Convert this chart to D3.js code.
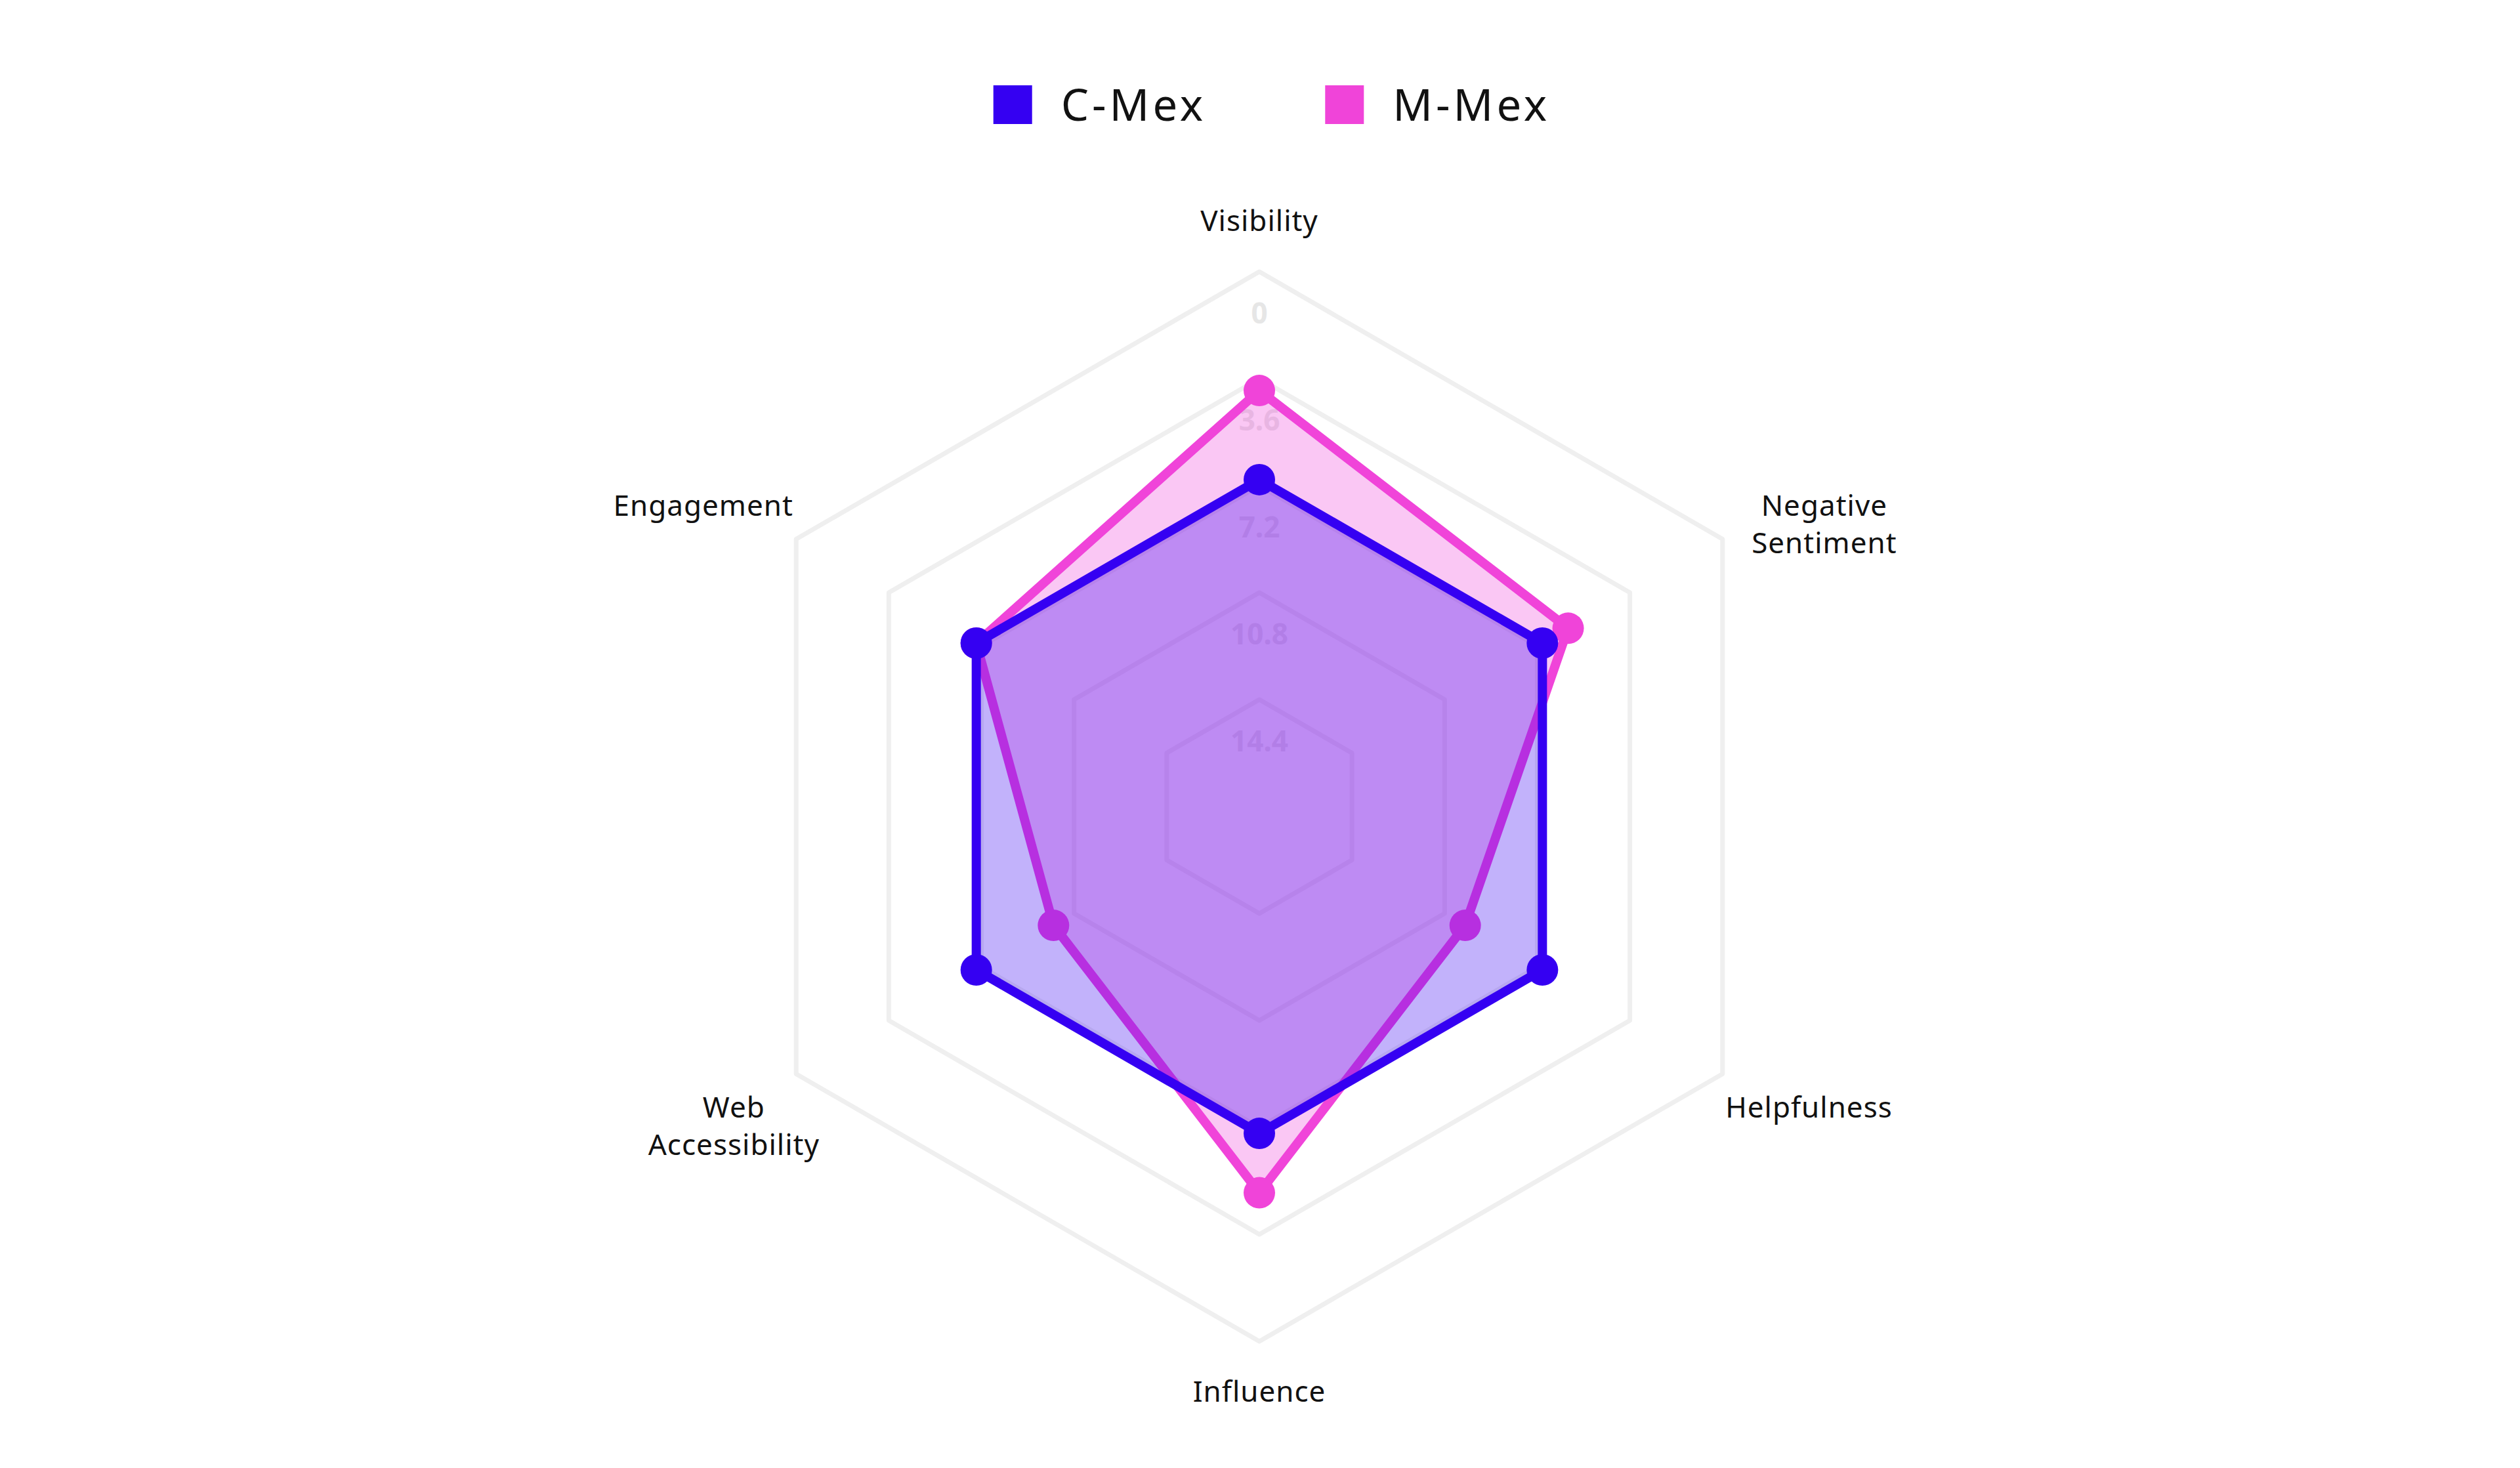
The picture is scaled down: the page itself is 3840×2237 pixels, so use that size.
<!DOCTYPE html>
<html>
<head>
<meta charset="utf-8">
<script src="https://cdn.jsdelivr.net/npm/d3@7"></script>
<style>
    body { margin: 0; background: #fff; }
    text { font-family: "Noto Sans", sans-serif; }
</style>
</head>
<body>
<script>
// chart data
var axisLabels = [["Visibility"], ["Negative", "Sentiment"], ["Helpfulness"], ["Influence"], ["Web", "Accessibility"], ["Engagement"]];
var seriesNames = ["C-Mex", "M-Mex"];
var cMexValues = [7, 7, 7, 7, 7, 7];
var mMexValues = [4, 6, 10, 5, 10, 7];
var tickValues = [0, 3.6, 7.2, 10.8, 14.4];
var scaleMax = 18;

var seriesColors = ["#3500f2", "#f044d9"];

var width = 3840,
    height = 2237,
    cx = 1919,
    cy = 1229,
    outerR = 815,
    svg,
    g,
    r,
    angle;

function init() {
    svg = d3.select("body").append("svg")
        .attr("width", width)
        .attr("height", height);

    // reversed radial scale: 0 on the outer ring, centre is the max
    r = d3.scaleLinear().domain([0, scaleMax]).range([outerR, 0]);
    angle = function (i) { return i * 2 * Math.PI / axisLabels.length; };

    g = svg.append("g").attr("transform", "translate(" + cx + "," + cy + ")");

    drawGrid();
    // M-Mex goes underneath, C-Mex fill tints it
    drawSeries(mMexValues, seriesColors[1]);
    drawSeries(cMexValues, seriesColors[0]);
    drawLabels();
    drawLegend();
}

function drawGrid() {
    var ring = d3.lineRadial()
        .angle(function (d, i) { return angle(i); })
        .radius(function (d) { return r(d); })
        .curve(d3.curveLinearClosed);

    g.selectAll(".ring")
        .data(tickValues)
        .enter().append("path")
        .attr("class", "ring")
        .attr("d", function (t) { return ring(axisLabels.map(function () { return t; })); })
        .attr("fill", "none")
        .attr("stroke", "#efefef")
        .attr("stroke-width", 7)
        .attr("stroke-linejoin", "round");

    g.selectAll(".tick-label")
        .data(tickValues)
        .enter().append("text")
        .attr("class", "tick-label")
        .attr("x", 0)
        .attr("y", function (t) { return -r(t) + 64; })
        .attr("dy", "0.35em")
        .attr("text-anchor", "middle")
        .attr("font-size", 44)
        .attr("font-weight", "bold")
        .attr("fill", "#e6e6e6")
        .text(function (t) { return t; });
}

function drawSeries(values, color) {
    var line = d3.lineRadial()
        .angle(function (d, i) { return angle(i); })
        .radius(function (d) { return r(d); })
        .curve(d3.curveLinearClosed);

    var s = g.append("g");

    s.append("path")
        .attr("d", line(values))
        .attr("fill", color)
        .attr("fill-opacity", 0.3)
        .attr("stroke", color)
        .attr("stroke-width", 14)
        .attr("stroke-linejoin", "round");

    s.selectAll("circle")
        .data(values)
        .enter().append("circle")
        .attr("cx", function (d, i) { return d3.pointRadial(angle(i), r(d))[0]; })
        .attr("cy", function (d, i) { return d3.pointRadial(angle(i), r(d))[1]; })
        .attr("r", 24)
        .attr("fill", color);
}

function drawLabels() {
    var lineH = 57;

    axisLabels.forEach(function (lines, i) {
        var a = angle(i),
            sinA = Math.abs(Math.sin(a)),
            // side labels sit a little further out vertically than top/bottom
            py = d3.pointRadial(a, 892 + 28 * sinA)[1],
            px = d3.pointRadial(a, 820)[0],
            side = sinA < 1e-6 ? 0 : (Math.sin(a) > 0 ? 1 : -1);

        var t = g.append("text")
            .attr("font-size", 44)
            .attr("letter-spacing", 1)
            .attr("fill", "#111")
            .attr("text-anchor", "middle");

        var spans = t.selectAll("tspan")
            .data(lines)
            .enter().append("tspan")
            .attr("y", function (d, k) { return py + k * lineH; })
            .attr("dy", "0.35em")
            .text(function (d) { return d; });

        // block width, so multi-line labels stay centred within the block
        var w = d3.max(spans.nodes(), function (n) { return n.getComputedTextLength(); });
        var shift = lines.length > 1 ? 40 : 0;
        spans.attr("x", side === 0 ? 0 : px + side * w / 2 + shift);
    });
}

function drawLegend() {
    var box = 59, gap = 44, itemGap = 181;

    var legend = svg.append("g");
    var x0 = 0;
    seriesNames.forEach(function (name, i) {
        var item = legend.append("g").attr("transform", "translate(" + x0 + ",0)");
        item.append("rect")
            .attr("width", box)
            .attr("height", box)
            .attr("fill", seriesColors[i]);
        var label = item.append("text")
            .attr("x", box + gap)
            .attr("y", box / 2)
            .attr("dy", "0.36em")
            .attr("font-size", 67)
            .attr("letter-spacing", 5)
            .attr("fill", "#111")
            .text(name);
        x0 += box + gap + label.node().getComputedTextLength() + itemGap;
    });
    var total = x0 - itemGap;
    legend.attr("transform", "translate(" + (width / 2 + 18 - total / 2) + ",130)");
}

window.onload = init;
</script>
</body>
</html>
